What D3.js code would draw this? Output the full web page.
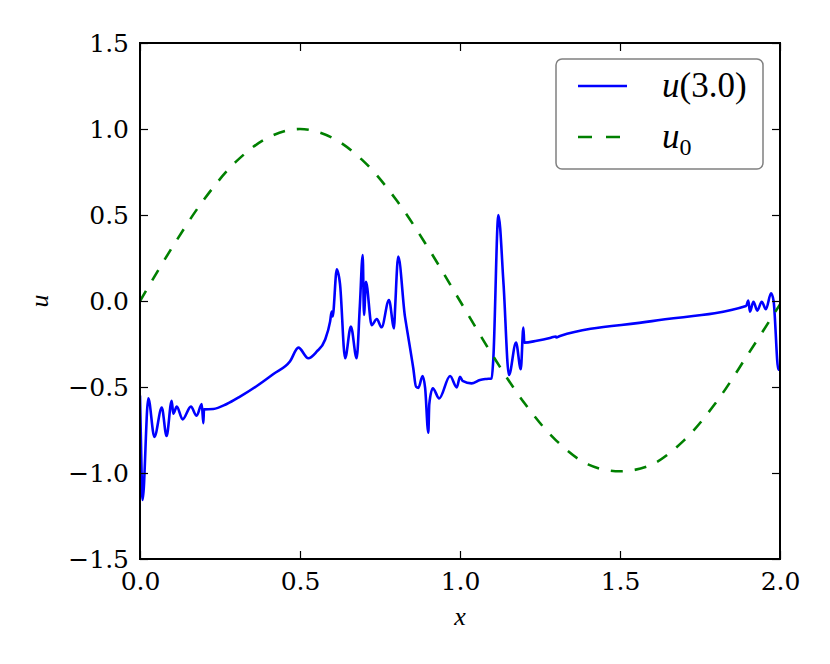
<!DOCTYPE html>
<html>
<head>
<meta charset="utf-8">
<script src="https://cdn.jsdelivr.net/npm/d3@7"></script>
<style>
  body { margin: 0; background: #fff; }
  text { font-family: "DejaVu Serif", serif; }
</style>
</head>
<body>
<div id="chart"></div>
<script>
// values
var xTicks = [0.0, 0.5, 1.0, 1.5, 2.0];
var yTicks = [-1.5, -1.0, -0.5, 0.0, 0.5, 1.0, 1.5];

var u0X = [0, 0.1, 0.2, 0.3, 0.4, 0.5, 0.6, 0.7, 0.8, 0.9, 1.0,
           1.1, 1.2, 1.3, 1.4, 1.5, 1.6, 1.7, 1.8, 1.9, 2.0];
var u0Y = [0.00, 0.31, 0.59, 0.81, 0.95, 1.00, 0.95, 0.81, 0.59, 0.31, 0.00,
           -0.31, -0.59, -0.81, -0.95, -0.99, -0.95, -0.81, -0.59, -0.31, -0.02];

var uX = [0.000, 0.005, 0.008, 0.026, 0.045, 0.068, 0.083, 0.099, 0.104, 0.115, 0.133,
          0.159, 0.177, 0.193, 0.198, 0.200, 0.229, 0.271, 0.3125, 0.365, 0.417,
          0.469, 0.495, 0.526, 0.552, 0.578, 0.594, 0.599, 0.602, 0.615,
          0.625, 0.641, 0.659, 0.677, 0.687, 0.696, 0.700, 0.706, 0.724, 0.740,
          0.755, 0.778, 0.794, 0.797, 0.807, 0.828, 0.833, 0.854, 0.8625, 0.870,
          0.883, 0.891, 0.901, 0.904, 0.915, 0.935, 0.969, 0.990, 1.000, 1.008,
          1.036, 1.0625, 1.083, 1.099, 1.104, 1.120, 1.136, 1.153, 1.175, 1.190,
          1.198, 1.201, 1.240, 1.281, 1.300, 1.301, 1.3125, 1.600, 1.894,
          1.901, 1.906, 1.917, 1.929, 1.943, 1.956, 1.972, 1.980, 1.995, 2.000];
var uY = [-0.55, -1.00, -1.157, -0.566, -0.79, -0.62, -0.785, -0.58, -0.655, -0.614, -0.688,
          -0.614, -0.667, -0.599, -0.711, -0.63, -0.628, -0.599, -0.556, -0.494, -0.424,
          -0.350, -0.271, -0.333, -0.295, -0.227, -0.12, -0.062, -0.09, 0.184,
          0.10, -0.333, -0.149, -0.333, -0.03, 0.267, -0.081, 0.112, -0.14, -0.105,
          -0.153, 0.006, -0.159, -0.05, 0.258, -0.091, -0.149, -0.391, -0.498, -0.505,
          -0.436, -0.505, -0.766, -0.60, -0.508, -0.566, -0.436, -0.502, -0.44, -0.465,
          -0.479, -0.459, -0.453, -0.45, -0.34, 0.50, 0.10, -0.43, -0.242, -0.397,
          -0.155, -0.242, -0.231, -0.215, -0.206, -0.212, -0.203, -0.117, -0.029,
          0.002, -0.062, -0.004, -0.056, -0.004, -0.048, 0.045, 0.00, -0.40, -0.39];

var W = 830, H = 664;
var margin = {left: 140, right: 50, top: 43, bottom: 105};
var w = W - margin.left - margin.right;
var h = H - margin.top - margin.bottom;

var svg = d3.select("#chart").append("svg")
    .attr("width", W)
    .attr("height", H);
var g = svg.append("g")
    .attr("transform", "translate(" + margin.left + "," + margin.top + ")");

var x = d3.scaleLinear().domain([0, 2]).range([0, w]);
var y = d3.scaleLinear().domain([-1.5, 1.5]).range([h, 0]);

g.append("clipPath").attr("id", "clip")
  .append("rect").attr("width", w).attr("height", h);

var line = d3.line()
    .x(function(d) { return x(d[0]); })
    .y(function(d) { return y(d[1]); });

var u0 = d3.zip(u0X, u0Y);
var u = d3.zip(uX, uY);

g.append("path")
    .datum(u)
    .attr("clip-path", "url(#clip)")
    .attr("fill", "none")
    .attr("stroke", "#0000ff")
    .attr("stroke-width", 2.6)
    .attr("stroke-linejoin", "round")
    .attr("d", line.curve(d3.curveMonotoneX));

g.append("path")
    .datum(u0)
    .attr("clip-path", "url(#clip)")
    .attr("fill", "none")
    .attr("stroke", "#008000")
    .attr("stroke-width", 2.6)
    .attr("stroke-dasharray", "12,12")
    .attr("d", line.curve(d3.curveCatmullRom));

// axes: ticks point inward, on all four sides
var fmt = function(d) { return d3.format(".1f")(d).replace("-", "\u2212"); };
function styleAxis(sel) {
  sel.select(".domain").remove();
  sel.selectAll(".tick line").attr("stroke", "#000").attr("stroke-width", 1.2);
  sel.selectAll(".tick text").attr("fill", "#000")
      .style("font-family", "DejaVu Serif").style("font-size", "25px");
}
g.append("g").attr("transform", "translate(0," + h + ")")
    .call(d3.axisBottom(x).tickValues(xTicks).tickFormat(fmt).tickSizeInner(-8).tickPadding(13))
    .call(styleAxis);
g.append("g")
    .call(d3.axisTop(x).tickValues(xTicks).tickFormat("").tickSizeInner(-8))
    .call(styleAxis);
g.append("g")
    .call(d3.axisLeft(y).tickValues(yTicks).tickFormat(fmt).tickSizeInner(-8).tickPadding(11))
    .call(styleAxis);
g.append("g").attr("transform", "translate(" + w + ",0)")
    .call(d3.axisRight(y).tickValues(yTicks).tickFormat("").tickSizeInner(-8))
    .call(styleAxis);

g.append("rect")
    .attr("width", w).attr("height", h)
    .attr("fill", "none").attr("stroke", "#000").attr("stroke-width", 2);

// axis labels
svg.append("text")
    .attr("x", margin.left + w / 2).attr("y", 625)
    .attr("text-anchor", "middle")
    .style("font-family", "Liberation Serif").style("font-style", "italic")
    .style("font-size", "26px")
    .text("x");
svg.append("text")
    .attr("transform", "translate(48," + (margin.top + h / 2) + ") rotate(-90)")
    .attr("text-anchor", "middle")
    .style("font-family", "Liberation Serif").style("font-style", "italic")
    .style("font-size", "26px")
    .text("u");

// legend
var legend = svg.append("g");
legend.append("rect")
    .attr("x", 556).attr("y", 59).attr("width", 207).attr("height", 110)
    .attr("rx", 6).attr("ry", 6)
    .attr("fill", "#fff").attr("stroke", "#808080").attr("stroke-width", 1.5);

var entries = [
  {y: 86, color: "#0000ff", dash: null, main: "u", rest: "(3.0)", sub: null},
  {y: 137, color: "#008000", dash: "14,14", main: "u", rest: null, sub: "0"}
];
entries.forEach(function(e) {
  legend.append("line")
      .attr("x1", 578).attr("x2", 627).attr("y1", e.y).attr("y2", e.y)
      .attr("stroke", e.color).attr("stroke-width", 2.6)
      .attr("stroke-dasharray", e.dash);
  var t = legend.append("text")
      .attr("x", 662).attr("y", e.y + 11)
      .style("font-family", "Liberation Serif").style("font-size", "35px");
  t.append("tspan").style("font-style", "italic").text(e.main);
  if (e.rest) t.append("tspan").text(e.rest);
  if (e.sub) t.append("tspan").attr("dy", 7).style("font-size", "24px").text(e.sub);
});
</script>
</body>
</html>
